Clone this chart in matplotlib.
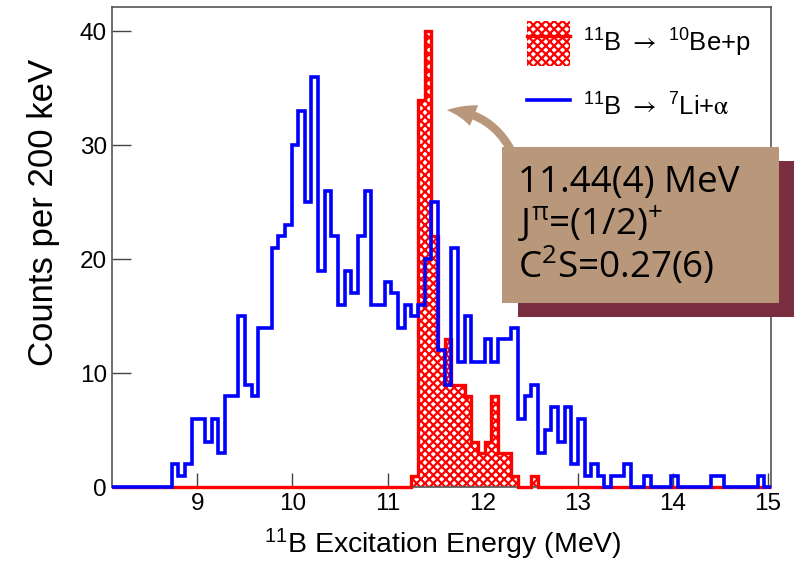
import numpy as np
import matplotlib
matplotlib.use("Agg")
import matplotlib.pyplot as plt
from matplotlib.patches import Rectangle, FancyArrowPatch, Patch
from matplotlib.lines import Line2D

plt.rcParams["font.family"] = "Liberation Sans"
plt.rcParams["mathtext.fontset"] = "custom"
plt.rcParams["mathtext.rm"] = "Liberation Sans"
plt.rcParams["mathtext.it"] = "Liberation Sans:italic"
plt.rcParams["mathtext.sf"] = "Open Sans"
plt.rcParams["mathtext.cal"] = "STIXGeneral"
plt.rcParams["hatch.linewidth"] = 1.6

# -------------------------
# Histogram data (70 keV bins from 8.1 MeV)
# -------------------------
bin_start = 8.1
bin_width = 0.07

counts_li_alpha = [
    0, 0, 0, 0, 0, 0, 0, 0, 0,
    2, 1, 2, 6, 6, 4, 6, 3, 8, 8,
    15, 9, 8, 14, 14, 21, 22, 23, 30, 33,
    25, 36, 19, 26, 22, 16, 19, 17, 22, 26,
    16, 16, 18, 17, 14, 16, 15, 16, 20, 25,
    12, 9, 21, 11, 15, 11, 11, 13, 11, 13,
    13, 14, 6, 8, 9, 3, 5, 7, 4, 7,
    2, 6, 1, 2, 1, 0, 1, 1, 2, 0,
    0, 1, 0, 0, 0, 1, 0, 0, 0, 0,
    0, 1, 1, 0, 0, 0, 0, 0, 1, 0,
]

counts_be_p = [0] * 45 + [
    1, 34, 40, 22, 12, 13, 9, 9, 8, 4,
    3, 4, 8, 3, 3, 1, 0, 0, 1, 0,
] + [0] * 34

x_ticks = [9, 10, 11, 12, 13, 14, 15]
y_ticks = [0, 10, 20, 30, 40]

label_be = r"$^{11}$B $\mathcal{\rightarrow}$ $^{10}$Be+p"
label_li = r"$^{11}$B $\mathcal{\rightarrow}$ $^{7}$Li+$\mathcal{\alpha}$"
state_lines = [
    "11.44(4) MeV",
    r"J$^{\mathsf{\pi}}$=(1/2)$^{\mathsf{+}}$",
    r"C$^{\mathsf{2}}$S=0.27(6)",
]

edges = bin_start + bin_width * np.arange(len(counts_li_alpha) + 1)

# -------------------------
# Figure
# -------------------------
fig = plt.figure(figsize=(7.94, 5.61), dpi=100)
ax = fig.add_axes([0.1407, 0.1314, 0.8303, 0.8556])

ax.stairs(counts_be_p, edges, fill=True, facecolor="white", edgecolor="red",
          hatch="xxxx", linewidth=0, zorder=2)
ax.stairs(counts_be_p, edges, color="red", linewidth=2.4, zorder=3, clip_on=False)
ax.stairs(counts_li_alpha, edges, color="blue", linewidth=2.6, zorder=4, clip_on=False)

ax.set_xlim(edges[0], edges[-1])
ax.set_ylim(0, 42.1)
ax.set_xticks(x_ticks)
ax.set_yticks(y_ticks)
ax.tick_params(axis="both", direction="in", color="#444444", width=1.0,
               labelsize=17.5)
ax.tick_params(axis="x", length=10, pad=4)
ax.tick_params(axis="y", length=13.7, pad=3.4)
for sp in ax.spines.values():
    sp.set_color("#555555")
    sp.set_linewidth(1.2)

fig.text(0.558, 1 - 553 / 561, r"$^{11}$B Excitation Energy (MeV)", fontsize=20.5,
         ha="center", va="baseline")
fig.text(60 / 794, 1 - 212 / 561, "Counts per 200 keV", fontsize=25,
         rotation=90, ha="right", va="center")

# legend
be_handle = (Patch(facecolor="white", edgecolor="red", hatch="xxxx", linewidth=0),
             Line2D([], [], color="red", linewidth=2.4))
li_handle = Line2D([], [], color="blue", linewidth=2.6)
ax.legend([be_handle, li_handle], [label_be, label_li], loc="upper left",
          bbox_to_anchor=(0.630, 0.971), frameon=False, fontsize=18.5,
          borderpad=0, borderaxespad=0, handlelength=1.674, handleheight=2.317,
          labelspacing=0.74, handletextpad=0.51)

# -------------------------
# Annotation box with shadow and arrow
# -------------------------
tan = "#B9977A"
shadow = Rectangle((518.3 / 794, 1 - 317.3 / 561), 0.36, 156 / 561,
                   transform=fig.transFigure, facecolor="#7A2E3F",
                   edgecolor="none", zorder=10)
box = Rectangle((501.7 / 794, 1 - 302.7 / 561), 277.6 / 794, 156 / 561,
                transform=fig.transFigure, facecolor=tan,
                edgecolor="none", zorder=11)
fig.add_artist(shadow)
fig.add_artist(box)

arrow = FancyArrowPatch((512 / 794, 1 - 152 / 561), (444 / 794, 1 - 110 / 561),
                        transform=fig.transFigure,
                        connectionstyle="arc3,rad=0.3",
                        arrowstyle="simple,head_length=1.0,head_width=0.8,tail_width=0.3",
                        mutation_scale=20, color=tan, linewidth=0, zorder=9)
fig.add_artist(arrow)

for text, base in zip(state_lines, [191.7, 235, 278.3]):
    fig.text(518 / 794, 1 - base / 561, text, fontsize=26.5, family="Open Sans",
             color="black", ha="left", va="baseline", zorder=12)

fig.savefig("out.png", dpi=100)
